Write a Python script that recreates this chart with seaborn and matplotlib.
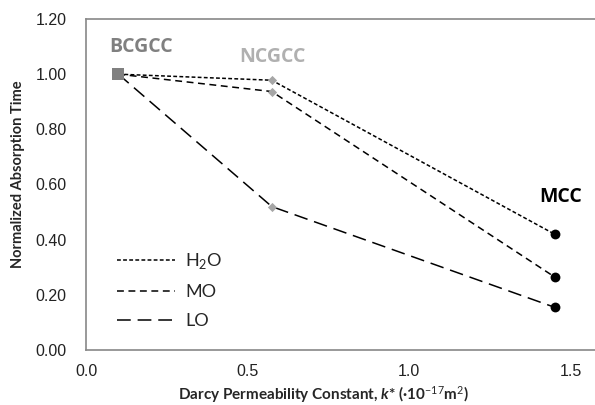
import pandas as pd
import numpy as np
import matplotlib
matplotlib.use("Agg")
import matplotlib.pyplot as plt
import seaborn as sns

# data
samples = ['BCGCC', 'NCGCC', 'MCC']
k_star = [0.10, 0.575, 1.45]
h2o = [1.00, 0.978, 0.42]
mo = [1.00, 0.937, 0.265]
lo = [1.00, 0.52, 0.155]
liquids = ['H$_2$O', 'MO', 'LO']

sns.set_theme(style='white')
plt.rcParams['font.family'] = ['Liberation Sans', 'DejaVu Sans']
plt.rcParams['mathtext.fontset'] = 'custom'
plt.rcParams['mathtext.rm'] = 'Lato'
plt.rcParams['mathtext.it'] = 'Lato:italic:bold'
plt.rcParams['mathtext.bf'] = 'Lato:bold'

df = pd.DataFrame({
    'k': k_star * 3,
    'time': h2o + mo + lo,
    'liquid': np.repeat(liquids, 3),
    'sample': samples * 3,
})

fig = plt.figure(figsize=(5.95, 4.05), dpi=100)
ax = fig.add_axes([86 / 595, 55 / 405, 517 / 595, 331 / 405])

dashes = {'H$_2$O': (2.5, 1.5), 'MO': (4.5, 3), 'LO': (9, 4.5)}
sns.lineplot(data=df, x='k', y='time', style='liquid', dashes=dashes,
             color='black', linewidth=1.1, ax=ax, sort=False)

marker_style = {
    'BCGCC': dict(marker='s', color='#808080', s=70),
    'NCGCC': dict(marker='D', color='#a6a6a6', s=22),
    'MCC': dict(marker='o', color='black', s=50),
}
for smp, st in marker_style.items():
    sub = df[df['sample'] == smp]
    sns.scatterplot(data=sub, x='k', y='time', marker=st['marker'],
                    color=st['color'], s=st['s'], linewidth=0, ax=ax,
                    zorder=5, legend=False)

# sample labels
lbl = dict(fontsize=14, fontweight='bold', family='Open Sans',
           ha='center', va='center')
ax.text(0.17, 1.098, 'BCGCC', color='#808080', **lbl)
ax.text(0.576, 1.062, 'NCGCC', color='#b0b0b0', **lbl)
ax.text(1.47, 0.556, 'MCC', color='black', **lbl)

ax.set_xlim(0, 1.6)
ax.set_ylim(0, 1.2)
ax.set_xticks([0.0, 0.5, 1.0, 1.5])
ax.set_xticklabels(['0.0', '0.5', '1.0', '1.5'])
ax.set_yticks(np.arange(0, 1.21, 0.2))
ax.set_yticklabels([f'{v:.2f}' for v in np.arange(0, 1.21, 0.2)])
ax.tick_params(axis='both', direction='in', length=4, color='#b0b0b0',
               labelsize=11.5, labelcolor='#222222')
ax.tick_params(axis='x', pad=10)
ax.tick_params(axis='y', pad=14)

for side in ['left', 'bottom', 'top']:
    ax.spines[side].set_color('#888888')
    ax.spines[side].set_linewidth(1.2)
ax.spines['right'].set_visible(False)

ax.set_xlabel(r'Darcy Permeability Constant, $k$* (·10$^{-17}$m$^2$)',
              family='Lato', fontweight='bold', fontsize=11)
ax.xaxis.set_label_coords((323 - 86) / 517, -0.104)
ax.set_ylabel('Normalized Absorption Time', family='Lato',
              fontweight='bold', fontsize=10.5)
ax.yaxis.set_label_coords(-0.118, 0.53)

handles, labels = ax.get_legend_handles_labels()
leg = ax.legend(handles, labels, loc='lower left', bbox_to_anchor=(0.028, 0.013),
                frameon=False, handlelength=3.2, handletextpad=0.6,
                labelspacing=0.72, prop={'family': 'Lato', 'size': 13})

fig.savefig('out.png', dpi=100)
